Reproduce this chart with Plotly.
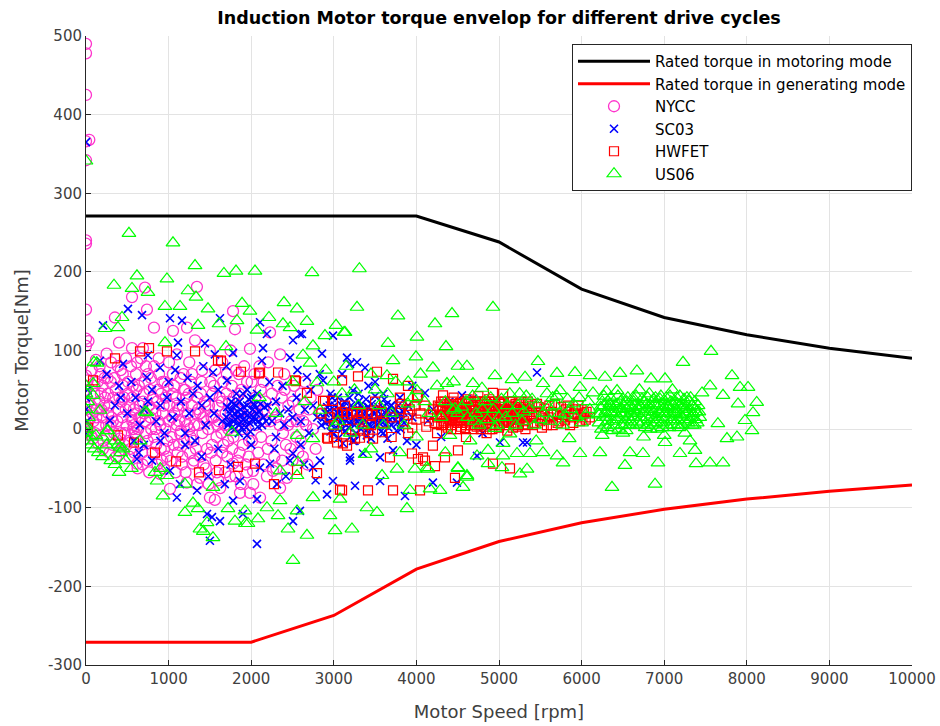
import plotly.graph_objects as go

# Rated torque envelopes
env_rpm = [0, 1000, 2000, 3000, 4000, 5000, 6000, 7000, 8000, 9000, 10000]
motoring_torque = [271, 271, 271, 271, 271, 238, 178, 142, 120, 103, 90]
generating_torque = [-271, -271, -271, -237, -178, -143, -119, -102, -89, -79, -71]

# Axis ticks
x_ticks = [0, 1000, 2000, 3000, 4000, 5000, 6000, 7000, 8000, 9000, 10000]
y_ticks = [-300, -200, -100, 0, 100, 200, 300, 400, 500]

# NYCC drive-cycle operating points (rpm, Nm)
nycc_points = [
    (0, 490), (0, 478), (0, 425), (0, 366), (40, 368), (0, 342), (0, 240), (0, 236), (0, 152), (0, 115),
    (30, 112), (0, 106), (0, 68), (20, 62), (0, 50), (0, 42), (30, 35), (0, 28), (0, 18), (40, 12),
    (0, 5), (0, -3), (60, -8),
    (120, 88), (180, 70), (250, 96), (300, 60), (350, 142), (400, 110), (420, 75), (180, 45), (220, 30),
    (270, 20), (330, 40), (380, 10), (450, 55), (480, 25), (150, 5), (250, -10), (320, -20), (400, -28),
    (470, -5), (520, -15), (200, 15), (300, 5), (430, 35),
    (557, 168), (714, 180), (738, 152), (823, 129), (557, 103), (690, 103), (620, 85), (750, 70), (880, 90),
    (950, 60), (560, 40), (600, 20), (580, 5), (570, 0), (590, -5), (650, 30), (700, 45), (780, 15),
    (820, -10), (860, 35), (900, 5), (950, -25), (617, -44), (680, -30), (750, -40), (896, -57), (980, -35),
    (1000, 10), (640, 55), (720, 10), (800, 25), (870, 50), (930, 20), (550, 15), (600, -10),
    (1053, 125), (1223, 129), (1343, 181), (1320, 113), (1100, 95), (1180, 70), (1250, 85), (1400, 60),
    (1050, 45), (1120, 25), (1140, -6), (1150, -2), (1200, 10), (1280, 30), (1350, 40), (1420, 15),
    (1480, 0), (1060, -20), (1160, -45), (1017, -76), (1220, -68), (1295, -44), (1380, -62), (1465, -25),
    (1500, -87), (1450, -50), (1300, -15), (1100, 5), (1250, 0), (1380, 20), (1200, 50), (1050, 70),
    (1500, 100), (1650, 85), (1780, 150), (1804, 127), (1985, 102), (1550, 55), (1600, 30), (1700, 45),
    (1750, 20), (1820, 5), (1900, 35), (1950, 60), (1580, -10), (1650, -30), (1720, -15), (1864, -81),
    (1985, -81), (1780, -44), (1560, -90), (1900, -20), (1950, -55), (1600, -65), (1520, 15), (1680, 5),
    (1850, 70), (1750, 100),
    (2228, 123), (2100, 80), (2400, 70), (2650, 60), (2800, 50), (2050, 40), (2150, 25), (2250, 45),
    (2300, 15), (2385, -5), (2450, 30), (2550, 10), (2600, -15), (2748, 0), (2700, 25), (2107, -87),
    (2022, -53), (2264, -53), (2433, -62), (2350, -75), (2500, -40), (2200, -25), (2050, 5), (2600, 45),
    (2850, 20), (2150, 60), (2350, 95),
    (60, 30), (80, 20), (100, 45), (90, 10), (110, -5), (130, 25), (140, 60), (160, 35), (200, 55),
    (210, -15), (230, 40), (260, 65), (280, 30), (310, 15), (340, -5), (360, 50), (390, 25), (410, -12),
    (440, 15), (460, 40), (490, 5), (510, 60), (530, 30), (540, -25), (560, 10), (580, 25), (610, 50),
    (630, 0), (660, 15), (670, -20), (690, 35), (710, 60), (730, -5), (760, 30), (770, 50), (790, 0),
    (810, 40), (840, 20), (850, -20), (880, 10), (910, 45), (920, -40), (940, 30), (960, 0), (990, 55),
    (1010, 30), (1030, -10), (1070, 20), (1090, 40), (1110, -30), (1130, 10), (1170, 30), (1190, -15),
    (1210, 40), (1230, 20), (1260, -30), (1270, 60), (1310, 5), (1330, -25), (1360, 25), (1390, 45),
    (1410, -5), (1440, 35), (1460, 10), (1490, 30), (1510, -30), (1530, 45), (1570, -40), (1590, 5),
    (1620, 40), (1640, -5), (1660, 60), (1690, 20), (1710, -35), (1730, 35), (1770, -25), (1790, 40),
    (1810, -60), (1840, 25), (1860, -30), (1880, 50), (1920, 10), (1970, -35), (1990, 25), (2010, -15),
    (2040, 70), (2070, 20), (2120, -10), (2170, 35), (2190, -60), (2230, 10), (2280, -35), (2320, 55),
    (2370, 40), (2420, -20), (2480, 10), (2520, 55), (2570, -30), (2630, 10), (2680, -45), (2720, 40),
    (2780, -25),
    (70, 75), (85, -12), (105, 55), (125, 15), (145, -18), (165, 80), (185, 25), (205, -25), (225, 65),
    (245, 5), (265, 45), (285, -30), (305, 85), (325, 10), (345, 65), (365, -35), (385, 80), (405, 40),
    (425, -5), (445, 70), (465, -20), (485, 90), (505, 45), (525, -35), (545, 80), (565, 55), (585, -30),
    (605, 70), (625, -50), (645, 15), (665, 90), (685, -45), (705, 20), (725, 80), (745, -15), (765, -55),
    (785, 65), (805, -30), (825, 80), (845, 0), (865, -45), (885, 70), (905, -25), (925, 60), (945, -50),
    (965, 40), (985, -15), (1005, 85), (1025, -40), (1045, 15), (1065, 55), (1085, -55), (1105, 30),
    (1125, -20), (1145, 65), (1165, -35), (1185, 50), (1205, -55), (1225, 5), (1245, 45), (1265, -10),
    (1285, 70), (1305, -40), (1325, 20), (1345, -70), (1365, 5), (1385, -35), (1405, 75), (1425, -45),
    (1445, 30), (1485, -70), (1505, 60), (1525, -20), (1545, 15), (1565, 75), (1585, -55), (1605, 10),
    (1625, -75), (1645, 35), (1665, -20), (1685, -55), (1705, 70), (1725, 0), (1745, -60), (1765, 55),
    (1785, -10), (1815, 75), (1835, -40), (1855, 45), (1875, -70), (1895, 0), (1915, 80), (1935, -45),
    (1955, 15), (1975, -15), (2005, 60), (2025, -70), (2055, 30), (2085, -30), (2115, 50), (2145, -45),
    (2175, 10), (2205, 85), (2245, -15), (2275, 25), (2305, -50), (2345, 5), (2375, -40), (2405, 50),
    (2445, 5), (2475, -25), (2505, 35), (2545, -10), (2585, 25), (2625, -35), (2665, 5),
]

# SC03 drive-cycle operating points (rpm, Nm)
sc03_points = [
    (0, 365), (0, 40), (0, 25), (10, 10), (0, -5), (20, 50),
    (170, 87), (206, 132), (448, 83), (508, 153), (678, 145), (750, 94), (738, 66), (896, 78), (980, 40),
    (1017, 141), (1100, 94), (1114, 110), (1162, 138), (1295, 45), (1440, 109), (1537, 72), (1622, 141),
    (1707, 62), (1780, 97), (2107, 136), (2143, 103), (2130, 87), (2190, 121), (2470, 91), (2506, 113),
    (2590, 121), (2615, 121), (2675, 66), (2857, 96), (2870, 62), (2990, 119), (3160, 91), (3196, 83),
    (3232, 49), (3281, 85), (3378, 78), (3500, 60), (3600, 45), (3800, 40), (4104, 46), (4552, 43),
    (4685, 39), (5460, 72), (3900, 30), (4200, 25),
    (290, 11), (350, 30), (400, 55), (500, 20), (600, 40), (650, 5), (700, 25), (800, 50), (850, 10),
    (900, 30), (1000, 60), (1050, 15), (1150, 35), (1200, -5), (1250, 20), (1350, 55), (1400, 30),
    (1450, 5), (1500, 40), (1550, 20), (1600, 50), (1650, 10),
    (1700, 15), (1750, 25), (1780, 10), (1800, 20), (1820, 30), (1830, 15), (1850, 5), (1870, 25),
    (1900, 12), (1920, 20), (1950, 30), (1980, 8), (2000, 18), (2020, 25), (2050, 12), (2080, 3),
    (2100, 22), (2150, 15), (2200, 30), (1800, 0), (1850, -5), (1950, -8), (2000, 40), (1900, 45),
    (1760, 35), (1880, 18), (1940, 2), (2030, 32), (1720, 5),
    (1710, 28), (1730, 8), (1740, 20), (1770, 2), (1790, 32), (1810, 12), (1840, 22), (1860, 35),
    (1890, 2), (1910, 28), (1930, 10), (1960, 18), (1970, 38), (1990, -3), (2010, 12), (2040, 30),
    (2060, 20), (2090, 10), (2110, 32), (2130, 5), (2160, 28), (2180, 10), (1820, 45), (1950, 50),
    (2070, 45),
    (2250, 10), (2300, 35), (2350, 20), (2400, 5), (2450, 25), (2500, 15), (2550, 40), (2600, 10),
    (2650, 25), (2700, -5), (2750, 30), (2800, 15),
    (2850, 5), (2900, 20), (2950, 10), (3000, 25), (3050, 15), (3100, 0), (3100, 30), (3150, 10),
    (3200, 20), (3250, 5), (3300, 15), (3350, 25), (3400, 10), (3450, 0), (3500, 20), (3550, 8),
    (3600, 15), (3650, 25), (3700, 5), (3750, 12), (3800, 20), (3000, -5), (3200, -10), (3400, -8),
    (3300, 35), (3600, -5), (3050, 40), (3700, 30), (3850, 8), (3950, 15), (3120, 18), (3260, 12),
    (3380, 22), (3480, 12), (3150, 25), (2950, 30),
    (2880, 15), (2920, 28), (2970, 5), (3020, 18), (3070, 25), (3080, 8), (3130, 35), (3170, 15),
    (3180, 2), (3230, 28), (3280, 10), (3310, 25), (3330, 0), (3360, 12), (3420, 28), (3440, 15),
    (3470, 22), (3520, 5), (3540, 28), (3580, 18), (3620, 5), (3640, 32), (3680, 12), (3720, 22),
    (3760, -2), (3780, 30), (3820, 12), (3870, 25), (3050, -12), (3250, -15), (3450, -12), (3650, -12),
    (3300, 45), (3500, 42),
    (2900, 8), (2930, 22), (2960, -3), (2990, 15), (3010, 30), (3030, 2), (3060, 20), (3090, 12),
    (3110, 28), (3140, -2), (3160, 22), (3190, 8), (3210, 30), (3240, 15), (3270, -5), (3290, 20),
    (3320, 30), (3340, 8), (3370, 18), (3390, -2), (3410, 28), (3430, 5), (3460, 32), (3490, 8),
    (3510, 25), (3530, 15), (3570, -3), (3590, 28), (3610, 10), (3630, 20), (3660, 2), (3690, 30),
    (3710, 15), (3740, 25), (3770, 8), (3790, 18), (3810, 0), (3840, 22), (2980, 40), (3190, 40),
    (3390, 38), (3610, 38),
    (250, 70), (420, 40), (550, 60), (580, -15), (750, 35), (950, -5), (1080, 75), (1230, 65),
    (1320, -15), (1420, 80), (1480, -60), (1560, 95), (1680, -70), (1700, 80), (2220, 60), (2280, -25),
    (2380, 55), (2420, -60), (2560, 75), (2640, -45), (2720, 50), (2780, -65), (2830, 70), (2960, 45),
    (4000, -20), (4300, -10), (4400, 35), (4800, -5), (3950, 55), (3100, 70), (3420, 55),
    (617, -38), (640, -30), (700, -20), (1017, -53), (1100, -87), (1138, -70), (1344, -78), (1465, -108),
    (1525, -112), (1500, -142), (1622, -117), (1780, -91), (1864, -66), (1900, -108), (2070, -89),
    (2070, -146), (2107, -49), (2228, -44), (2312, -70), (2470, -40), (2506, -117), (2590, -104),
    (2748, -49), (2833, -40), (2918, -83), (2990, -66), (3196, -40), (3232, -15), (2506, -31),
    (3111, -18), (3196, -36), (3257, -72), (3354, -31), (3560, -36), (3560, -66), (3717, -27),
    (3862, -85), (3886, -15), (4140, 11), (4200, -68), (4491, -68), (4734, -34), (5012, -17),
    (5290, -17), (5339, -17), (1200, -20), (1400, -35), (1600, -25), (1750, -45), (2000, -20),
    (2300, -10), (2600, -20), (900, -15), (800, -40),
]

# HWFET drive-cycle operating points (rpm, Nm)
hwfet_points = [
    (24, 2), (85, 62), (351, 90), (387, -8), (581, -17), (654, 99), (763, 103), (835, -30), (980, 99),
    (1090, -41), (1320, 99), (1368, -55), (1598, 87), (1634, 87), (1610, -52), (1840, -48), (1876, 73),
    (2046, -44), (2094, 71), (2107, 72), (2276, -70), (2325, 72), (2530, 62), (2542, 61), (2555, -52),
    (2675, 46), (2797, -56), (2870, 36), (2893, 36), (2918, -11), (2930, -12), (2990, 36), (3039, -17),
    (3075, -77), (3100, 62), (3100, -78), (3111, -18), (3136, 30), (3160, -21), (3257, -12), (3293, 67),
    (3317, -11), (3354, -2), (3414, -78), (3475, -12), (3523, 73), (3584, -4), (3680, -36), (3717, 64),
    (3717, -78), (3898, 55), (3946, -31), (4007, 40), (4019, 43), (4019, -38), (4044, -78), (4080, -36),
    (4104, -40), (4200, -21), (4225, -47), (4322, 43), (4346, -36), (4467, -62), (4503, -27), (4927, 46),
    (4927, -44), (5133, -50),
    (3040, 20), (3100, 22), (3160, 18), (3220, 20), (3280, 22), (3340, 19), (3400, 21), (3460, 18),
    (3520, 20), (3580, 22),
    (3000, 5), (3150, 0), (3300, 12), (3450, 5), (3600, 8), (3700, 15), (3800, 25), (3850, 10),
    (3900, 18), (3950, 2), (4000, 12), (3820, 32), (3920, 25), (3980, 30), (2850, 20), (2950, 15),
    (3000, -10), (3420, -5), (3700, -10), (3900, -5),
    (4050, 20), (4100, 30), (4150, 10), (4200, 25), (4250, 15), (4300, 35), (4300, 5), (4350, 22),
    (4400, 12), (4400, 30), (4450, 18), (4500, 8), (4500, 26), (4550, 15), (4600, 32), (4600, 5),
    (4650, 20), (4700, 12), (4700, 28), (4750, 18), (4800, 8), (4800, 35), (4850, 22), (4900, 14),
    (4900, 30), (4950, 5), (5000, 20), (5000, 35), (5050, 12), (5100, 25), (5150, 8), (5200, 18),
    (5200, 32), (5250, 12), (5300, 24), (5350, 6), (5400, 16), (5400, 30), (5450, 22), (5500, 10),
    (5550, 26), (5600, 15), (5650, 5), (5700, 20), (5750, 28), (5800, 12), (5850, 22), (5900, 8),
    (5950, 18), (6000, 25), (6050, 12), (6100, 15), (4250, -5), (4600, -10), (4850, -5), (5100, -2),
    (4450, 40), (4750, 42), (5050, 45), (3500, 35), (3800, 40),
    (4120, 3), (4180, 18), (4280, 28), (4330, 10), (4380, 2), (4430, 25), (4480, 14), (4530, 33),
    (4580, 22), (4630, 10), (4680, 30), (4730, 3), (4780, 22), (4830, 14), (4880, 38), (4930, 22),
    (4980, 10), (5030, 28), (5080, 18), (5130, 35), (5180, 25), (5230, 3), (5280, 15), (5330, 32),
    (5380, 22), (5430, 8), (5480, 28), (5530, 18), (5580, 5), (5630, 22), (5680, 32), (5730, 10),
    (5780, 18), (5830, 30), (5880, 15), (5930, 25), (5980, 10), (6030, 20),
    (4220, 8), (4260, 30), (4310, 18), (4360, 5), (4370, 28), (4410, 20), (4420, 0), (4460, 30),
    (4470, 10), (4520, 20), (4540, 3), (4570, 28), (4610, 15), (4620, 38), (4660, 5), (4670, 25),
    (4720, 20), (4740, 35), (4760, 5), (4790, 15), (4810, 28), (4840, 3), (4860, 32), (4870, 12),
    (4910, 22), (4920, 0), (4960, 30), (4970, 15), (5010, 5), (5020, 25), (5060, 35), (5070, 18),
    (5110, 10), (5120, 30), (5160, 20), (5170, 2), (5210, 28), (5220, 12), (5260, 22), (5270, 35),
    (5310, 10), (5320, 0), (5360, 25), (5370, 15), (5410, 5), (5460, 32), (5510, 18), (5520, 2),
    (5560, 12), (5610, 30), (5660, 18), (5710, 8), (5760, 15), (5810, 25), (5860, 5), (5910, 20),
    (5960, 30), (6010, 15), (6060, 22),
    (4300, 15), (4320, 25), (4340, 35), (4340, 8), (4390, 15), (4390, 32), (4430, 5), (4440, 35),
    (4490, 22), (4490, 0), (4510, 32), (4530, 10), (4560, 20), (4590, 35), (4590, 0), (4640, 28),
    (4650, 12), (4690, 0), (4690, 18), (4710, 35), (4740, 12), (4770, 28), (4780, 0), (4820, 20),
    (4830, 35), (4850, 8), (4880, 28), (4890, 0), (4940, 18), (4950, 35), (4990, 25), (5000, 2),
    (5040, 15), (5040, 32), (5090, 5), (5090, 25), (5140, 15), (5150, 35), (5190, 5), (5190, 28),
    (5240, 18), (5250, 32), (5290, 5), (5300, 28), (5340, 18), (5350, 35), (4360, 18), (4460, 20),
    (4560, 8), (4660, 35), (4760, 25), (4860, 18), (4960, 22), (5060, 8), (5160, 12), (5260, 25),
    (4410, 10), (4510, 12), (4610, 25), (4710, 5), (4810, 12), (4910, 35), (5010, 32), (5110, 22),
    (5210, 20), (5310, 18),
]

# US06 drive-cycle operating points (rpm, Nm)
us06_points = [
    (0, 341), (0, 55), (0, 45), (20, 35), (0, 25), (30, 15), (0, 5), (10, 0), (0, -5), (50, -10),
    (520, 249), (1053, 237), (1320, 208), (617, 195), (339, 183), (557, 179), (750, 174), (980, 191),
    (1235, 176), (1332, 168), (1670, 198), (1816, 201), (2046, 201), (2736, 199), (3310, 204),
    (3281, 155), (436, 142), (230, 128), (387, 129), (956, 156), (1138, 156), (1477, 153), (1889, 160),
    (1985, 150), (1828, 138), (1610, 134), (1356, 132), (2070, 126), (2215, 142), (2385, 134),
    (2397, 161), (2555, 153), (2675, 137), (2470, 129), (2893, 119), (3027, 132), (3136, 123),
    (2748, 106), (2627, 94), (2712, 84), (956, 110), (1695, 105), (133, 84), (714, 22), (2797, 59),
    (3777, 144), (4225, 134), (4431, 147), (4927, 155), (3656, 109), (4007, 117), (4358, 105),
    (3995, 92), (3717, 87), (3124, 123), (4200, 78), (4503, 80), (4612, 80), (4370, 58), (4685, 58),
    (4794, 52), (4951, 68), (5157, 63), (5315, 66), (5472, 86), (5702, 71), (5920, 72), (6102, 68),
    (6283, 66), (6465, 71), (6670, 74), (3644, 68), (4007, 49), (4467, 26), (3898, 32), (5533, 58),
    (5738, 49), (5980, 53), (6138, 46), (6429, 49), (6622, 40), (7567, 99), (7228, 85), (6840, 64),
    (7010, 64), (7821, 68), (7918, 53), (8015, 53), (7458, 46), (7555, 55), (7712, 43), (8120, 34),
    (8075, 21), (7894, 32), (7978, 11), (7650, 7), (7760, -12), (7881, -10), (8063, -2),
    (87, 58), (88, 43), (97, 85), (170, 24), (254, -2), (266, -2), (351, -15), (412, -23), (387, -20),
    (448, -25), (654, -15), (738, 21), (1768, -4), (835, -55), (860, -66), (900, -50), (980, -59),
    (932, -85), (1198, -70), (1295, -94), (1198, -106), (1356, -101), (1465, -119), (1380, -127),
    (1420, -130), (1537, -138), (1537, -74), (1719, -101), (1804, -117), (1925, -104), (1930, -120),
    (1961, -120), (2082, -114), (2191, -100), (2325, -110), (2349, -91), (2349, -53), (2446, -127),
    (2506, -167), (2555, -104), (2567, -42), (2675, -135), (2748, -87), (2954, -110), (3015, -129),
    (3075, -89), (3220, -127), (3015, 4), (2833, 24), (2748, -12), (2555, -8), (2555, -59),
    (30, -15), (60, -20), (100, -25), (150, -30), (200, -35), (300, -40), (350, -45), (420, -30),
    (480, -40), (400, -55), (550, -50), (200, -10), (250, -20), (120, -8),
    (3378, -32), (3402, -100), (3523, -106), (3886, -101), (3584, -59), (3765, -51), (3983, -51),
    (4140, -51), (3922, -78), (4165, -76), (4286, -78), (4503, -50), (4564, -74), (4612, -61),
    (4128, -49), (4503, -49), (5036, -49), (4612, -59), (4734, -34), (4867, -27), (5048, -34),
    (5218, -31), (5375, -31), (5533, -30), (5702, -34), (5980, -31), (5775, -43), (4407, -8), (4951, 1),
    (5133, -6), (4443, 24), (5254, -57), (5339, -51), (4867, -44), (6368, -74), (6525, -46), (6222, -30),
    (6586, -30), (6743, -31), (7010, -17), (7191, -31), (7373, -27), (6925, -43), (7385, -44),
    (7555, -43), (7712, -43), (7312, -15), (6889, -70),
    (3100, 45), (3300, 30), (3500, 50), (3700, 20), (3900, 60), (4100, 35), (4300, 15), (3200, -5),
    (3600, 5), (4000, -10),
    (3000, 60), (3050, 10), (3150, 80), (3250, 50), (3350, 5), (3450, 70), (3550, 30), (3650, 45),
    (3750, 60), (3850, 5), (3950, 40), (4050, 70), (4150, 20), (4250, 55), (4350, 35), (4450, 60),
    (3800, -30), (3450, -25), (4350, -30),
    (4500, 20), (4600, 35), (4700, 10), (4800, 25), (4900, 40), (5000, 15), (5100, 30), (5200, 5),
    (5300, 22), (5400, 38), (5500, 12), (5600, 28), (5700, 42), (5800, 18), (5900, 32), (6000, 8),
    (6100, 25), (4650, -15), (5050, -18), (5450, -15), (5850, -12), (5250, 45), (5650, 40),
    (4550, 28), (4620, 15), (4680, 42), (4720, 20), (4760, 5), (4830, 35), (4860, 12), (4930, 25),
    (4980, 5), (5030, 38), (5080, 15), (5130, 45), (5160, 20), (5230, 30), (5280, 10), (5330, 42),
    (5370, 25), (5430, 5), (5470, 32), (5530, 20), (5580, 45), (5620, 10), (5680, 30), (5730, 20),
    (5770, 5), (5830, 38), (5870, 25), (5930, 15), (5970, 40), (6050, 18), (6080, 35),
    (6200, 20), (6250, 35), (6280, 5), (6300, 15), (6330, 28), (6350, 40), (6380, 10), (6400, 22),
    (6430, 32), (6450, 0), (6480, 18), (6500, 38), (6530, 12), (6550, 26), (6580, 5), (6600, 20),
    (6630, 35), (6650, 15), (6700, 30), (6750, 10), (6780, 25), (6800, 40), (6830, 0), (6850, 18),
    (6880, 32), (6900, 8), (6930, 22), (6950, 38), (6980, 15), (7000, 28), (7030, 5), (7050, 20),
    (7080, 35), (7100, 12), (7130, 25), (7150, 40), (7180, 2), (7200, 18), (7230, 30), (7250, 10),
    (7280, 22), (7300, 35), (7330, 15), (7360, 28), (7400, 8), (7420, 22), (6250, -8), (6500, -5),
    (6750, -10), (7000, -8), (7250, -5), (6300, 48), (6700, 50), (7100, 50),
    (6210, 8), (6230, 28), (6260, 15), (6270, 42), (6310, 2), (6320, 35), (6360, 20), (6370, -2),
    (6410, 30), (6420, 12), (6440, 42), (6460, 25), (6490, 5), (6510, 30), (6520, 20), (6540, -2),
    (6560, 40), (6570, 15), (6610, 28), (6620, 5), (6640, 22), (6660, 42), (6680, 8), (6690, 25),
    (6720, 15), (6730, 38), (6760, 22), (6770, 2), (6790, 32), (6810, 12), (6820, 45), (6840, 25),
    (6860, 5), (6870, 38), (6890, 15), (6910, 30), (6920, 0), (6940, 20), (6960, 42), (6970, 8),
    (6990, 25), (7010, 35), (7020, 15), (7040, 28), (7060, 2), (7070, 42), (7090, 18), (7110, 30),
    (7120, 5), (7140, 20), (7160, 32), (7170, 12), (7190, 42), (7210, 25), (7220, 5), (7240, 38),
    (7260, 18), (7270, 28), (7290, 8), (7310, 25), (7320, 40), (7340, 5), (7350, 20), (7370, 35),
    (7380, 12), (7410, 30), (7430, 15),
    (6215, 18), (6240, 0), (6265, 30), (6290, 22), (6315, 10), (6340, 32), (6365, 28), (6390, 5),
    (6415, 20), (6445, 15), (6470, 35), (6495, 25), (6525, 5), (6545, 35), (6575, 28), (6595, 10),
    (6625, 15), (6650, 30), (6675, 20), (6705, 5), (6725, 28), (6755, 35), (6785, 15), (6805, 5),
    (6835, 30), (6865, 22), (6895, 40), (6915, 12), (6945, 30), (6975, 2), (7005, 20), (7025, 40),
    (7055, 28), (7085, 10), (7115, 22), (7135, 35), (7165, 5), (7195, 30), (7215, 15), (7245, 25),
    (7275, 40), (7305, 12), (7335, 30), (7365, 5), (7390, 22),
    (2100, 40), (2300, 20), (2500, 60), (2650, 35), (2900, 75),
]

FONT = "DejaVu Sans, Verdana, sans-serif"
AX_COL = "#262626"
TXT_COL = "#404040"

fig = go.Figure()

fig.add_trace(go.Scatter(
    x=env_rpm, y=motoring_torque, mode="lines", name="Rated torque in motoring mode",
    line=dict(color="#000000", width=3)))
fig.add_trace(go.Scatter(
    x=env_rpm, y=generating_torque, mode="lines", name="Rated torque in generating mode",
    line=dict(color="#FF0000", width=3)))

series = [
    ("NYCC", nycc_points, "circle-open", 11, "#FF33CC", 1.3),
    ("SC03", sc03_points, "x-thin-open", 8, "#0000FF", 1.6),
    ("HWFET", hwfet_points, "square-open", 9, "#FF0000", 1.2),
    ("US06", us06_points, "triangle-up-open", 12, "#00FF00", 1.2),
]
for name, pts, sym, size, col, lw in series:
    fig.add_trace(go.Scatter(
        x=[p[0] for p in pts], y=[p[1] for p in pts], mode="markers", name=name,
        marker=dict(symbol=sym, size=size, color=col, line=dict(color=col, width=lw))))

fig.update_layout(
    width=940, height=726,
    margin=dict(l=86, r=28, t=36, b=61),
    paper_bgcolor="white", plot_bgcolor="white",
    font=dict(family=FONT, color=TXT_COL),
    title=dict(text="<b>Induction Motor torque envelop for different drive cycles</b>",
               x=499 / 940, xanchor="center",
               y=1 - 18 / 726, yanchor="middle",
               font=dict(family=FONT, size=17.5, color="#000000")),
    xaxis=dict(range=[0, 10000], tickmode="array", tickvals=x_ticks,
               ticktext=[str(v) for v in x_ticks], automargin=False,
               showgrid=True, gridcolor="#E3E3E3", gridwidth=1,
               showline=True, linecolor=AX_COL, linewidth=1, mirror=False,
               ticks="inside", ticklen=5, tickcolor=AX_COL,
               zeroline=False, tickfont=dict(size=15, color=TXT_COL),
               title=dict(text="Motor Speed [rpm]", font=dict(size=18, color=TXT_COL), standoff=18)),
    yaxis=dict(range=[-300, 500], tickmode="array", tickvals=y_ticks,
               ticktext=[str(v) for v in y_ticks], automargin=False,
               showgrid=True, gridcolor="#E3E3E3", gridwidth=1,
               showline=True, linecolor=AX_COL, linewidth=1, mirror=False,
               ticks="inside", ticklen=5, tickcolor=AX_COL,
               zeroline=False, tickfont=dict(size=15, color=TXT_COL),
               title=dict(text="Motor Torque[Nm]", font=dict(size=18, color=TXT_COL), standoff=14)),
    legend=dict(x=1, y=1 - 8 / 629, xanchor="right", yanchor="top",
                bgcolor="white", bordercolor=AX_COL, borderwidth=1,
                font=dict(family=FONT, size=15, color="#000000"),
                itemwidth=72, tracegroupgap=0),
    showlegend=True,
)

fig.write_html("out.html")
